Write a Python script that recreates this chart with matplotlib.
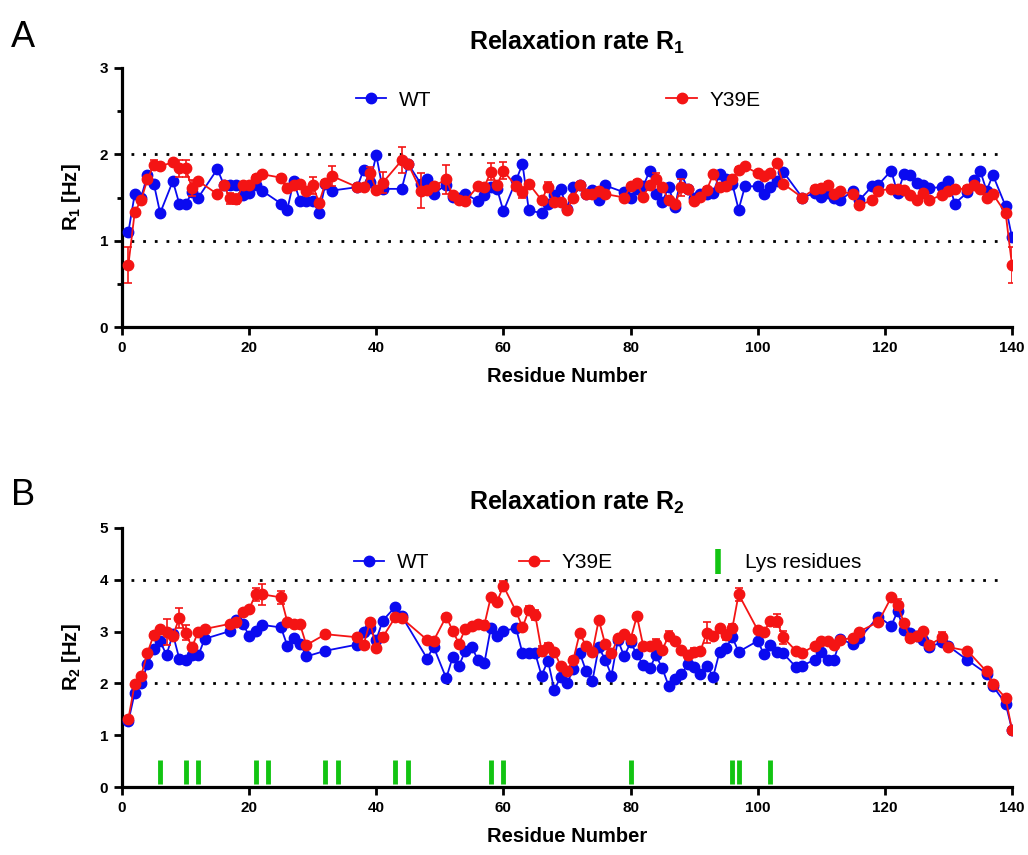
import matplotlib
matplotlib.use("Agg")
import matplotlib.pyplot as plt
from matplotlib.lines import Line2D

plt.rcParams['font.family'] = ['Liberation Sans', 'DejaVu Sans']
plt.rcParams['mathtext.fontset'] = 'custom'
plt.rcParams['mathtext.rm'] = 'Liberation Sans'
plt.rcParams['mathtext.bf'] = 'Liberation Sans:bold'

# ---- panel A : R1 ----
res_r1 = [1, 2, 3, 4, 5, 6, 8, 9, 10, 11,
          12, 15, 16, 17, 18, 19, 20, 21, 22, 25,
          26, 27, 28, 29, 30, 31, 32, 33, 37, 38,
          39, 40, 41, 44, 45, 47, 48, 49, 51, 52,
          53, 54, 56, 57, 58, 59, 60, 62, 63, 64,
          66, 67, 68, 69, 70, 71, 72, 73, 74, 75,
          76, 79, 80, 81, 82, 83, 84, 85, 86, 87,
          88, 89, 90, 91, 92, 93, 94, 95, 96, 97,
          98, 100, 101, 102, 103, 104, 107, 109, 110, 111,
          112, 113, 115, 116, 118, 119, 121, 122, 123, 124,
          125, 126, 127, 129, 130, 131, 133, 134, 135, 136,
          137, 139, 140]
r1_wt = [1.10, 1.54, 1.50, 1.76, 1.66, 1.32, 1.69, 1.43, 1.42, 1.56,
         1.50, 1.83, 1.65, 1.64, 1.65, 1.53, 1.55, 1.64, 1.58, 1.43,
         1.36, 1.69, 1.46, 1.46, 1.46, 1.32, 1.66, 1.58, 1.62, 1.82,
         1.68, 1.99, 1.60, 1.60, 1.89, 1.66, 1.71, 1.54, 1.65, 1.51,
         1.50, 1.54, 1.46, 1.53, 1.62, 1.60, 1.34, 1.70, 1.89, 1.35,
         1.32, 1.43, 1.53, 1.60, 1.37, 1.62, 1.65, 1.54, 1.59, 1.47,
         1.64, 1.56, 1.50, 1.60, 1.63, 1.81, 1.54, 1.45, 1.62, 1.39,
         1.77, 1.60, 1.49, 1.54, 1.54, 1.55, 1.77, 1.72, 1.66, 1.36,
         1.63, 1.63, 1.54, 1.62, 1.69, 1.80, 1.50, 1.55, 1.51, 1.55,
         1.50, 1.47, 1.58, 1.47, 1.63, 1.65, 1.81, 1.55, 1.77, 1.76,
         1.67, 1.64, 1.61, 1.62, 1.69, 1.43, 1.56, 1.70, 1.81, 1.58,
         1.76, 1.40, 1.04]
r1_y39e = [0.72, 1.33, 1.47, 1.71, 1.88, 1.86, 1.91, 1.84, 1.84, 1.61,
           1.69, 1.54, 1.65, 1.49, 1.48, 1.64, 1.64, 1.73, 1.77, 1.73,
           1.61, 1.64, 1.66, 1.58, 1.64, 1.44, 1.67, 1.75, 1.62, 1.62,
           1.78, 1.59, 1.67, 1.93, 1.89, 1.58, 1.59, 1.63, 1.71, 1.53,
           1.47, 1.46, 1.63, 1.62, 1.80, 1.65, 1.81, 1.63, 1.56, 1.66,
           1.47, 1.62, 1.45, 1.45, 1.36, 1.49, 1.65, 1.54, 1.54, 1.58,
           1.54, 1.50, 1.63, 1.67, 1.51, 1.65, 1.72, 1.62, 1.47, 1.42,
           1.62, 1.60, 1.46, 1.51, 1.59, 1.77, 1.62, 1.63, 1.71, 1.82,
           1.86, 1.78, 1.75, 1.78, 1.90, 1.66, 1.50, 1.60, 1.61, 1.65,
           1.54, 1.57, 1.54, 1.41, 1.47, 1.58, 1.60, 1.60, 1.59, 1.53,
           1.47, 1.55, 1.47, 1.53, 1.58, 1.60, 1.60, 1.64, 1.60, 1.50,
           1.54, 1.32, 0.72]
r1_y39e_err = [0.21, 0.03, 0.03, 0.03, 0.05, 0.04, 0.03, 0.10, 0.10, 0.09,
               0.03, 0.03, 0.03, 0.06, 0.06, 0.03, 0.03, 0.03, 0.03, 0.03,
               0.03, 0.03, 0.03, 0.03, 0.10, 0.03, 0.03, 0.12, 0.03, 0.03,
               0.07, 0.03, 0.12, 0.15, 0.03, 0.20, 0.03, 0.03, 0.17, 0.03,
               0.03, 0.03, 0.03, 0.03, 0.10, 0.03, 0.10, 0.03, 0.06, 0.03,
               0.03, 0.06, 0.03, 0.03, 0.03, 0.03, 0.03, 0.03, 0.03, 0.03,
               0.03, 0.03, 0.03, 0.03, 0.03, 0.03, 0.06, 0.03, 0.03, 0.03,
               0.10, 0.03, 0.03, 0.03, 0.03, 0.03, 0.03, 0.03, 0.03, 0.03,
               0.03, 0.03, 0.03, 0.03, 0.04, 0.03, 0.03, 0.03, 0.03, 0.03,
               0.03, 0.03, 0.03, 0.03, 0.03, 0.03, 0.03, 0.03, 0.03, 0.03,
               0.03, 0.03, 0.03, 0.03, 0.03, 0.03, 0.03, 0.03, 0.03, 0.03,
               0.03, 0.03, 0.21]

# ---- panel B : R2 ----
res_r2 = [1, 2, 3, 4, 5, 6, 7, 8, 9, 10,
          11, 12, 13, 17, 18, 19, 20, 21, 22, 25,
          26, 27, 28, 29, 32, 37, 38, 39, 40, 41,
          43, 44, 48, 49, 51, 52, 53, 54, 55, 56,
          57, 58, 59, 60, 62, 63, 64, 65, 66, 67,
          68, 69, 70, 71, 72, 73, 74, 75, 76, 77,
          78, 79, 80, 81, 82, 83, 84, 85, 86, 87,
          88, 89, 90, 91, 92, 93, 94, 95, 96, 97,
          100, 101, 102, 103, 104, 106, 107, 109, 110, 111,
          112, 113, 115, 116, 119, 121, 122, 123, 124, 125,
          126, 127, 129, 130, 133, 136, 137, 139, 140]
r2_wt = [1.27, 1.82, 2.00, 2.37, 2.66, 2.81, 2.55, 2.95, 2.48, 2.46,
         2.54, 2.54, 2.86, 3.01, 3.23, 3.15, 2.92, 3.01, 3.13, 3.08,
         2.73, 2.87, 2.77, 2.52, 2.63, 2.75, 3.00, 3.06, 2.84, 3.21,
         3.48, 3.30, 2.48, 2.71, 2.10, 2.50, 2.34, 2.63, 2.71, 2.45,
         2.39, 3.06, 2.92, 3.02, 3.06, 2.58, 2.58, 2.58, 2.15, 2.44,
         1.88, 2.12, 2.00, 2.27, 2.59, 2.24, 2.05, 2.70, 2.46, 2.15,
         2.84, 2.52, 2.79, 2.56, 2.35, 2.29, 2.54, 2.29, 1.95, 2.08,
         2.18, 2.37, 2.31, 2.19, 2.34, 2.13, 2.61, 2.68, 2.89, 2.61,
         2.82, 2.56, 2.74, 2.61, 2.58, 2.32, 2.34, 2.46, 2.61, 2.46,
         2.46, 2.85, 2.76, 2.87, 3.29, 3.11, 3.39, 3.03, 2.98, 2.92,
         2.84, 2.71, 2.79, 2.72, 2.45, 2.19, 1.95, 1.61, 1.11]
r2_y39e = [1.32, 1.99, 2.14, 2.59, 2.94, 3.05, 3.00, 2.92, 3.26, 2.98,
           2.70, 3.00, 3.05, 3.15, 3.19, 3.37, 3.43, 3.72, 3.72, 3.66,
           3.19, 3.15, 3.14, 2.74, 2.95, 2.89, 2.74, 3.19, 2.69, 2.89,
           3.28, 3.26, 2.84, 2.82, 3.29, 3.02, 2.77, 3.05, 3.10, 3.15,
           3.13, 3.66, 3.58, 3.88, 3.39, 3.08, 3.42, 3.32, 2.63, 2.71,
           2.61, 2.34, 2.23, 2.46, 2.97, 2.72, 2.61, 3.23, 2.76, 2.58,
           2.87, 2.95, 2.85, 3.30, 2.72, 2.72, 2.77, 2.65, 2.92, 2.81,
           2.65, 2.55, 2.61, 2.63, 2.98, 2.92, 3.06, 2.94, 3.06, 3.72,
           3.03, 3.00, 3.21, 3.21, 2.89, 2.63, 2.59, 2.73, 2.81, 2.81,
           2.74, 2.84, 2.88, 3.00, 3.19, 3.66, 3.52, 3.17, 2.87, 2.92,
           3.01, 2.74, 2.89, 2.70, 2.63, 2.23, 1.99, 1.72, 1.11]
r2_y39e_err = [0.04, 0.04, 0.04, 0.04, 0.06, 0.04, 0.25, 0.04, 0.20, 0.15,
               0.05, 0.04, 0.04, 0.04, 0.04, 0.04, 0.04, 0.12, 0.20, 0.13,
               0.04, 0.04, 0.04, 0.04, 0.04, 0.04, 0.04, 0.04, 0.04, 0.08,
               0.04, 0.04, 0.04, 0.04, 0.04, 0.04, 0.04, 0.04, 0.04, 0.04,
               0.08, 0.05, 0.04, 0.10, 0.04, 0.04, 0.08, 0.10, 0.10, 0.07,
               0.04, 0.04, 0.04, 0.04, 0.04, 0.04, 0.04, 0.04, 0.04, 0.04,
               0.04, 0.04, 0.08, 0.06, 0.04, 0.04, 0.08, 0.04, 0.10, 0.04,
               0.04, 0.08, 0.07, 0.04, 0.20, 0.06, 0.04, 0.10, 0.08, 0.12,
               0.04, 0.04, 0.04, 0.13, 0.12, 0.04, 0.04, 0.04, 0.04, 0.04,
               0.04, 0.04, 0.04, 0.04, 0.04, 0.04, 0.10, 0.04, 0.08, 0.04,
               0.04, 0.04, 0.10, 0.04, 0.04, 0.04, 0.04, 0.04, 0.04]

lys_res = [6, 10, 12, 21, 23, 32, 34, 43, 45, 58, 60, 80, 96, 97, 102]

blue = '#0a0af0'
red = '#f41414'
green = '#12c412'

fig = plt.figure(figsize=(10.28, 8.55), dpi=100)
axA = fig.add_axes([0.1187, 0.6175, 0.8657, 0.303])
axB = fig.add_axes([0.1187, 0.0795, 0.8657, 0.303])


def style(ax, ymax, ylab, title):
    ax.set_xlim(0, 140)
    ax.set_ylim(0, ymax)
    for s in ['top', 'right']:
        ax.spines[s].set_visible(False)
    for s in ['left', 'bottom']:
        ax.spines[s].set_linewidth(2.3)
    ax.set_xticks(range(0, 141, 20))
    ax.set_yticks(range(0, ymax + 1))
    ax.tick_params(which='major', direction='out', length=6, width=2, labelsize=11, pad=4)
    ax.tick_params(which='minor', direction='out', length=3.5, width=2)
    for lab in ax.get_xticklabels() + ax.get_yticklabels():
        lab.set_fontweight('bold')
    ax.set_xlabel('Residue Number', fontsize=14.5, fontweight='bold', labelpad=9)
    ax.set_ylabel(ylab, fontsize=14.5, fontweight='bold', labelpad=12)
    ax.set_title(title, fontsize=18, fontweight='bold', pad=13, x=0.511)


# panel A
axA.axhline(1, color='black', ls=(0, (1, 3.2)), lw=2, xmin=0.01, xmax=0.99)
axA.axhline(2, color='black', ls=(0, (1, 3.2)), lw=2, xmin=0.01, xmax=0.99)
axA.plot(res_r1, r1_wt, '-o', color=blue, lw=1.3, ms=7.5, zorder=3)
axA.errorbar(res_r1, r1_y39e, yerr=r1_y39e_err, fmt='-o', color=red, lw=1.3, ms=7.5,
             elinewidth=1.2, capsize=3, capthick=1.2, zorder=4)
axA.set_yticks([0.5, 1.5, 2.5], minor=True)
style(axA, 3, 'R$_\\mathbf{1}$ [Hz]', 'Relaxation rate R$_\\mathbf{1}$')

hA = [Line2D([], [], color=blue, marker='o', ms=7.5, lw=1.3),
      Line2D([], [], color=red, marker='o', ms=7.5, lw=1.3)]
axA.legend(hA, ['WT', 'Y39E'], ncol=2, loc='center', bbox_to_anchor=(0.49, 0.876),
           frameon=False, fontsize=15, handlelength=1.45, handletextpad=0.6,
           columnspacing=11.3)

# panel B
axB.axhline(2, color='black', ls=(0, (1, 3.2)), lw=2, xmin=0.01, xmax=0.99)
axB.axhline(4, color='black', ls=(0, (1, 3.2)), lw=2, xmin=0.01, xmax=0.99)
axB.vlines(lys_res, 0.05, 0.52, color=green, lw=3.5, zorder=2)
axB.plot(res_r2, r2_wt, '-o', color=blue, lw=1.3, ms=7.5, zorder=3)
axB.errorbar(res_r2, r2_y39e, yerr=r2_y39e_err, fmt='-o', color=red, lw=1.3, ms=7.5,
             elinewidth=1.2, capsize=3, capthick=1.2, zorder=4)
style(axB, 5, 'R$_\\mathbf{2}$ [Hz]', 'Relaxation rate R$_\\mathbf{2}$')

hB = [Line2D([], [], color=blue, marker='o', ms=7.5, lw=1.3),
      Line2D([], [], color=red, marker='o', ms=7.5, lw=1.3),
      Line2D([], [], color=green, marker='|', ms=18, mew=4, ls='none')]
axB.legend(hB, ['WT', 'Y39E', 'Lys residues'], ncol=3, loc='center',
           bbox_to_anchor=(0.546, 0.865), frameon=False, fontsize=15,
           handlelength=1.45, handletextpad=0.6, columnspacing=4.3)

fig.text(0.011, 0.945, 'A', fontsize=26, va='baseline')
fig.text(0.011, 0.409, 'B', fontsize=26, va='baseline')

fig.savefig('out.png', dpi=100)
